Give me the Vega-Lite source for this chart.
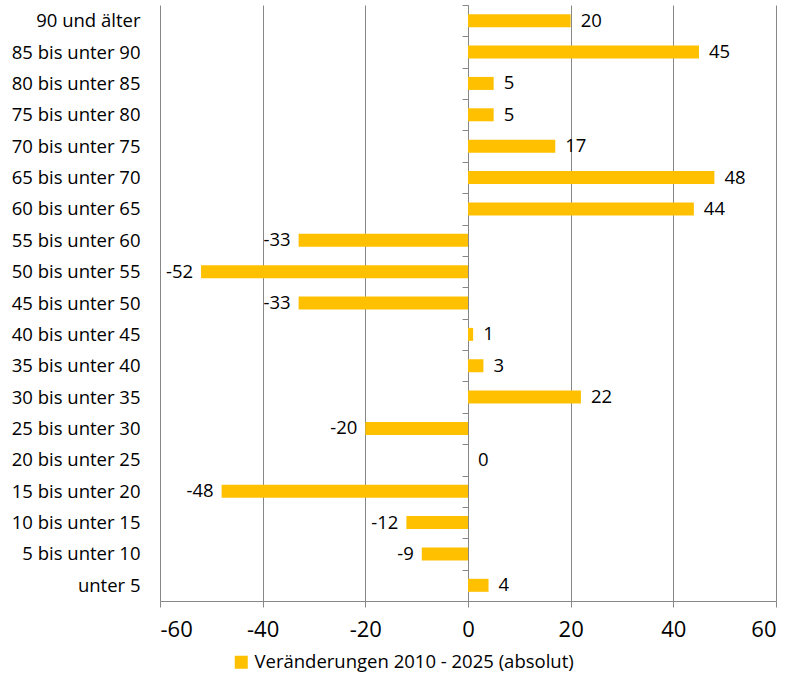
{
  "$schema": "https://vega.github.io/schema/vega-lite/v6.json",
  "width": 616,
  "height": 596,
  "autosize": {"type": "none"},
  "padding": {"left": 160, "top": 5, "right": 14, "bottom": 78},
  "background": "white",
  "config": {
    "font": "Open Sans",
    "view": {"stroke": null}
  },
  "data": {
    "values": [
      {"gruppe": "90 und älter", "wert": 20, "serie": "Veränderungen 2010 - 2025 (absolut)"},
      {"gruppe": "85 bis unter 90", "wert": 45, "serie": "Veränderungen 2010 - 2025 (absolut)"},
      {"gruppe": "80 bis unter 85", "wert": 5, "serie": "Veränderungen 2010 - 2025 (absolut)"},
      {"gruppe": "75 bis unter 80", "wert": 5, "serie": "Veränderungen 2010 - 2025 (absolut)"},
      {"gruppe": "70 bis unter 75", "wert": 17, "serie": "Veränderungen 2010 - 2025 (absolut)"},
      {"gruppe": "65 bis unter 70", "wert": 48, "serie": "Veränderungen 2010 - 2025 (absolut)"},
      {"gruppe": "60 bis unter 65", "wert": 44, "serie": "Veränderungen 2010 - 2025 (absolut)"},
      {"gruppe": "55 bis unter 60", "wert": -33, "serie": "Veränderungen 2010 - 2025 (absolut)"},
      {"gruppe": "50 bis unter 55", "wert": -52, "serie": "Veränderungen 2010 - 2025 (absolut)"},
      {"gruppe": "45 bis unter 50", "wert": -33, "serie": "Veränderungen 2010 - 2025 (absolut)"},
      {"gruppe": "40 bis unter 45", "wert": 1, "serie": "Veränderungen 2010 - 2025 (absolut)"},
      {"gruppe": "35 bis unter 40", "wert": 3, "serie": "Veränderungen 2010 - 2025 (absolut)"},
      {"gruppe": "30 bis unter 35", "wert": 22, "serie": "Veränderungen 2010 - 2025 (absolut)"},
      {"gruppe": "25 bis unter 30", "wert": -20, "serie": "Veränderungen 2010 - 2025 (absolut)"},
      {"gruppe": "20 bis unter 25", "wert": 0, "serie": "Veränderungen 2010 - 2025 (absolut)"},
      {"gruppe": "15 bis unter 20", "wert": -48, "serie": "Veränderungen 2010 - 2025 (absolut)"},
      {"gruppe": "10 bis unter 15", "wert": -12, "serie": "Veränderungen 2010 - 2025 (absolut)"},
      {"gruppe": "5 bis unter 10", "wert": -9, "serie": "Veränderungen 2010 - 2025 (absolut)"},
      {"gruppe": "unter 5", "wert": 4, "serie": "Veränderungen 2010 - 2025 (absolut)"}
    ]
  },
  "encoding": {
    "y": {
      "field": "gruppe",
      "type": "nominal",
      "sort": null,
      "scale": {"paddingInner": 0, "paddingOuter": 0},
      "axis": {
        "title": null,
        "orient": "left",
        "offset": -308,
        "domain": true,
        "domainColor": "#878787",
        "domainWidth": 1,
        "ticks": true,
        "tickBand": "extent",
        "tickColor": "#878787",
        "tickWidth": 1,
        "tickSize": 6,
        "labelPadding": 322,
        "labelFontSize": 18.5,
        "labelColor": "#000000",
        "labelFont": "Open Sans",
        "grid": false
      }
    },
    "x": {
      "field": "wert",
      "type": "quantitative",
      "scale": {"domain": [-60, 60], "nice": false, "zero": false},
      "axis": {
        "title": null,
        "values": [-60, -40, -20, 0, 20, 40, 60],
        "labelExpr": "'' + datum.value",
        "grid": true,
        "gridColor": "#878787",
        "gridWidth": 1,
        "domain": true,
        "domainColor": "#878787",
        "tickColor": "#878787",
        "tickSize": 6,
        "labelFontSize": 22,
        "labelColor": "#000000",
        "labelPadding": 12,
        "labelFont": "Open Sans"
      }
    }
  },
  "layer": [
    {
      "mark": {"type": "bar", "size": 13},
      "encoding": {
        "color": {
          "field": "serie",
          "type": "nominal",
          "scale": {"range": ["#FFC000"]},
          "legend": {
            "title": null,
            "orient": "none",
            "legendX": 72,
            "legendY": 648,
            "symbolType": "square",
            "symbolSize": 169,
            "symbolStrokeWidth": 0,
            "symbolOpacity": 1,
            "labelFontSize": 18.5,
            "labelColor": "#000000",
            "labelFont": "Open Sans",
            "labelLimit": 0,
            "labelOffset": 4
          }
        }
      }
    },
    {
      "transform": [{"filter": "datum.wert >= 0"}],
      "mark": {"type": "text", "align": "left", "baseline": "middle", "dx": 10, "fontSize": 18.5, "color": "#000000"},
      "encoding": {"text": {"field": "wert", "type": "nominal"}}
    },
    {
      "transform": [{"filter": "datum.wert < 0"}],
      "mark": {"type": "text", "align": "right", "baseline": "middle", "dx": -8, "fontSize": 18.5, "color": "#000000"},
      "encoding": {"text": {"field": "wert", "type": "nominal"}}
    }
  ]
}
